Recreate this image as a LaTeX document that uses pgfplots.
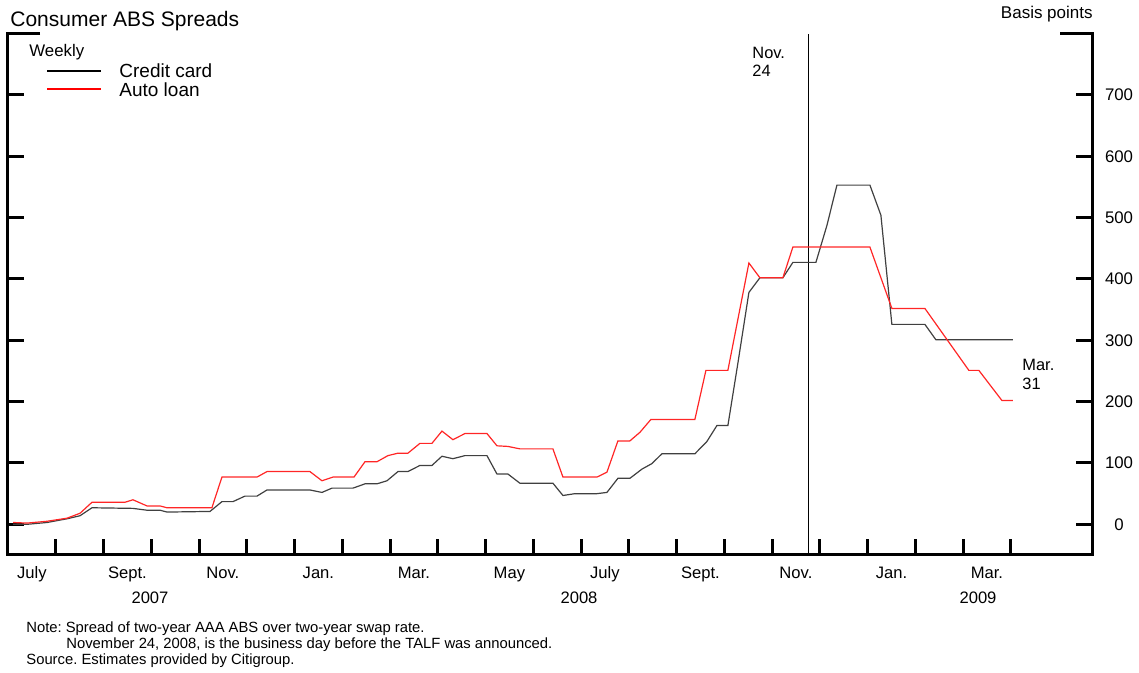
\documentclass[border=0pt]{standalone}
\usepackage{fontspec}
\setmainfont{Liberation Sans}
\usepackage{pgfplots}
\pgfplotsset{compat=1.18}
\frenchspacing

% x: months since July 1, 2007; y: basis points
\begin{document}
\begin{tikzpicture}
\begin{axis}[
    width=542pt, height=260.7pt, scale only axis,
    xmin=0, xmax=22.7, ymin=-50, ymax=800,
    axis line style={draw=none},
    tick align=inside,
    major tick length=8pt,
    every tick/.style={black, line width=1.5pt},
    xtick={1,...,21}, xticklabels={},
    xtick pos=left,
    extra x ticks={0.5,2.5,...,20.5},
    extra x tick labels={July,Sept.,Nov.,Jan.,Mar.,May,July,Sept.,Nov.,Jan.,Mar.},
    extra x tick style={tick style={draw=none}},
    xticklabel style={anchor=base, yshift=-12pt, font=\fontsize{8.3}{9}\selectfont},
    ytick={0,100,...,700},
    ytick pos=both,
    yticklabel pos=right,
    yticklabel style={anchor=center, xshift=13.5pt, font=\fontsize{8.4}{9}\selectfont},
    /pgf/number format/assume math mode=true,
    clip=false,
]
\coordinate (SW) at (rel axis cs:0,0);
\draw[line width=1.5pt, line join=miter]
    ([xshift=16pt]rel axis cs:0,1) -- (rel axis cs:0,1) -- (rel axis cs:0,0)
    -- (rel axis cs:1,0) -- (rel axis cs:1,1) -- ([xshift=-16pt]rel axis cs:1,1);
\draw[line width=0.8pt] (axis cs:16.767,-50) -- (axis cs:16.767,800);

% Credit card
\addplot[black!75, line width=0.6pt] coordinates {
(0.105,0) (0.398,0) (0.817,3) (1.235,9) (1.508,14) (1.759,27) (2.617,26)
(2.91,23) (3.183,23) (3.329,20) (4.23,21) (4.48,37) (4.711,37) (4.962,46)
(5.214,46) (5.423,56) (6.323,56) (6.575,52) (6.784,59) (7.224,59) (7.475,66)
(7.726,66) (7.936,71) (8.166,86) (8.375,86) (8.626,96) (8.878,96) (9.087,111)
(9.317,107) (9.569,112) (10.03,112) (10.239,82) (10.469,82) (10.72,67)
(11.411,67) (11.621,47) (11.872,50) (12.333,50) (12.542,52) (12.772,75)
(13.023,75) (13.275,90) (13.484,99) (13.693,115) (14.384,115) (14.635,135)
(14.845,161) (15.075,161) (15.285,263) (15.515,378) (15.745,402) (16.227,402)
(16.436,427) (16.918,427) (17.148,487) (17.358,553) (18.049,553) (18.279,504)
(18.509,326) (19.2,326) (19.43,301) (21.043,301)
};
% Auto loan
\addplot[red!85, line width=0.6pt] coordinates {
(0.105,3) (0.398,2) (0.817,5) (1.235,10) (1.508,18) (1.759,36) (2.45,36)
(2.617,40) (2.91,30) (3.183,30) (3.329,27) (4.27,27) (4.48,77) (5.214,77)
(5.423,86) (6.323,86) (6.575,71) (6.805,77) (7.245,77) (7.475,102) (7.726,102)
(7.956,112) (8.166,116) (8.375,116) (8.626,132) (8.878,132) (9.087,152)
(9.317,138) (9.569,148) (10.03,148) (10.239,128) (10.469,127) (10.72,123)
(11.411,123) (11.621,77) (12.333,77) (12.542,85) (12.772,136) (13.023,136)
(13.233,150) (13.463,171) (14.384,171) (14.615,251) (15.075,251) (15.515,426)
(15.745,402) (16.227,402) (16.436,452) (18.049,452) (18.509,352) (19.2,352)
(20.121,251) (20.33,251) (20.812,202) (21.043,202)
};
\end{axis}

% annotations, in pixel units of the 1139x673 reference
\begin{scope}[shift={(SW)}, x=0.5pt, y=-0.5pt, shift={(-8,-555)},
              every node/.style={inner sep=0pt}]
\node[anchor=base west, font=\fontsize{10.5}{12}\selectfont] at (10,27) {Consumer ABS Spreads};
\node[anchor=base east, font=\fontsize{8.5}{10}\selectfont] at (1093,18.5) {Basis points};
\node[anchor=base west, font=\fontsize{8.4}{10}\selectfont] at (29,57) {Weekly};
\draw[black, line width=0.6pt] (47,71) -- (101,71);
\draw[red, line width=0.6pt] (47,89) -- (101,89);
\node[anchor=base west, font=\fontsize{9.5}{11}\selectfont] at (119,77.5) {Credit card};
\node[anchor=base west, font=\fontsize{9.5}{11}\selectfont] at (119,96.5) {Auto loan};
\node[anchor=base west, font=\fontsize{8.2}{10}\selectfont] at (752,59) {Nov.};
\node[anchor=base west, font=\fontsize{8.2}{10}\selectfont] at (752,77) {24};
\node[anchor=base west, font=\fontsize{8.2}{10}\selectfont] at (1022,371) {Mar.};
\node[anchor=base west, font=\fontsize{8.2}{10}\selectfont] at (1022,390) {31};
\node[anchor=base, font=\fontsize{8.3}{10}\selectfont] at (150,604) {2007};
\node[anchor=base, font=\fontsize{8.3}{10}\selectfont] at (579,604) {2008};
\node[anchor=base, font=\fontsize{8.3}{10}\selectfont] at (978,604) {2009};
\begin{scope}[every node/.append style={anchor=base west, font=\fontsize{7.4}{9}\selectfont}]
\node at (26,633) {Note: Spread of two-year AAA ABS over two-year swap rate.};
\node at (66,649) {November 24, 2008, is the business day before the TALF was announced.};
\node at (26,664.5) {Source. Estimates provided by Citigroup.};
\end{scope}
\pgfresetboundingbox
\path (0,0) rectangle (1139,673);
\end{scope}
\end{tikzpicture}
\end{document}
